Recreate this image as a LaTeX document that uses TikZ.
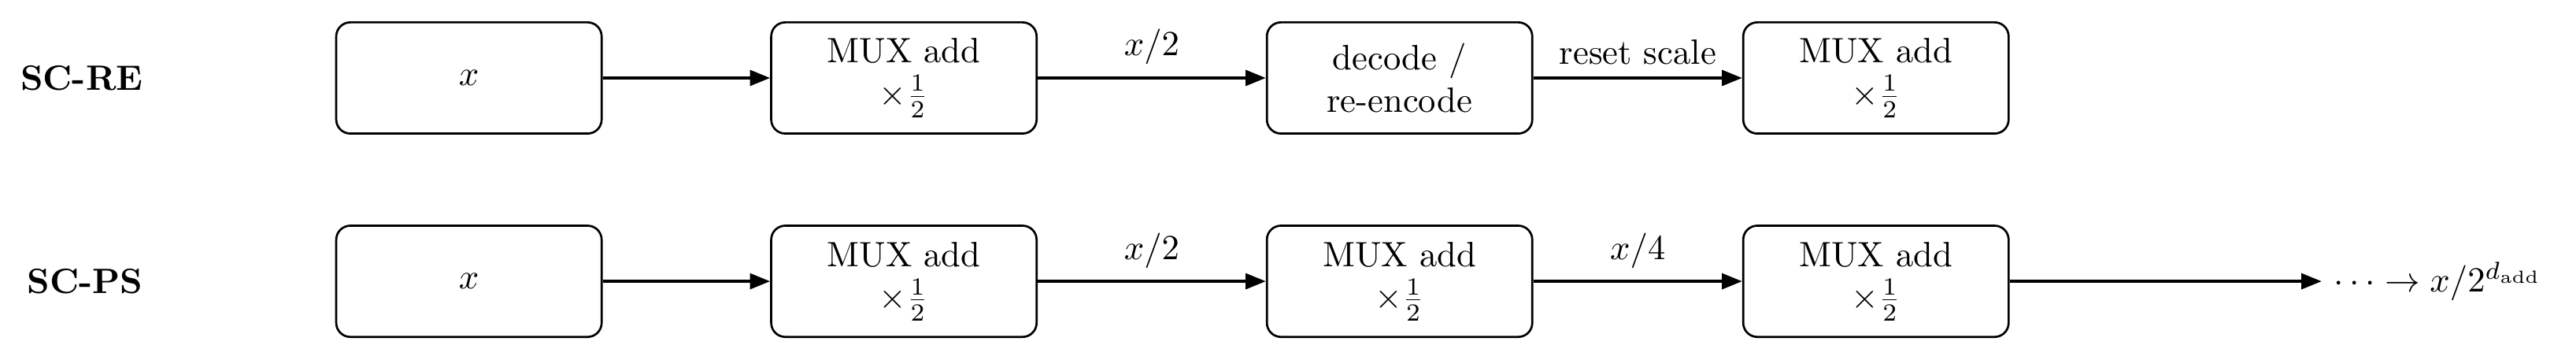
\documentclass[tikz,border=0pt]{standalone}
\usetikzlibrary{arrows.meta}
\begin{document}
\begin{tikzpicture}[
  blk/.style={draw, line width=0.6pt, rounded corners=4pt, minimum width=2.65cm, minimum height=1.11cm, align=center, inner sep=2pt},
  conn/.style={line width=0.85pt, -{Triangle[length=5.75pt,width=4.4pt]}},
  rowlabel/.style={anchor=east, font=\bfseries},
  elab/.style={above, midway}
]
\useasboundingbox (0,0) rectangle (25.72,-3.585);
% row 1
\node[rowlabel] (lre) at (1.55,-0.778) {SC-RE};
\node[blk] (a1) at (4.682,-0.778) {$x$};
\node[blk] (a2) at (9.025,-0.778) {MUX add\\$\times\frac{1}{2}$};
\node[blk] (a3) at (13.974,-0.778) {decode /\\re-encode};
\node[blk] (a4) at (18.730,-0.778) {MUX add\\$\times\frac{1}{2}$};
\draw[conn] (a1) -- (a2);
\draw[conn] (a2) -- node[elab] (l1) {$x/2$} (a3);
\draw[conn] (a3) -- node[elab] (l2) {reset scale} (a4);
% row 2
\node[rowlabel] (lps) at (1.55,-2.807) {SC-PS};
\node[blk] (b1) at (4.682,-2.807) {$x$};
\node[blk] (b2) at (9.025,-2.807) {MUX add\\$\times\frac{1}{2}$};
\node[blk] (b3) at (13.974,-2.807) {MUX add\\$\times\frac{1}{2}$};
\node[blk] (b4) at (18.730,-2.807) {MUX add\\$\times\frac{1}{2}$};
\node[anchor=west] (bend) at (23.18,-2.807) {$\cdots\to x/2^{d_{\mathrm{add}}}$};
\draw[conn] (b1) -- (b2);
\draw[conn] (b2) -- node[elab] (l3) {$x/2$} (b3);
\draw[conn] (b3) -- node[elab] (l4) {$x/4$} (b4);
\draw[conn] (b4) -- (bend);
\end{tikzpicture}
\end{document}
